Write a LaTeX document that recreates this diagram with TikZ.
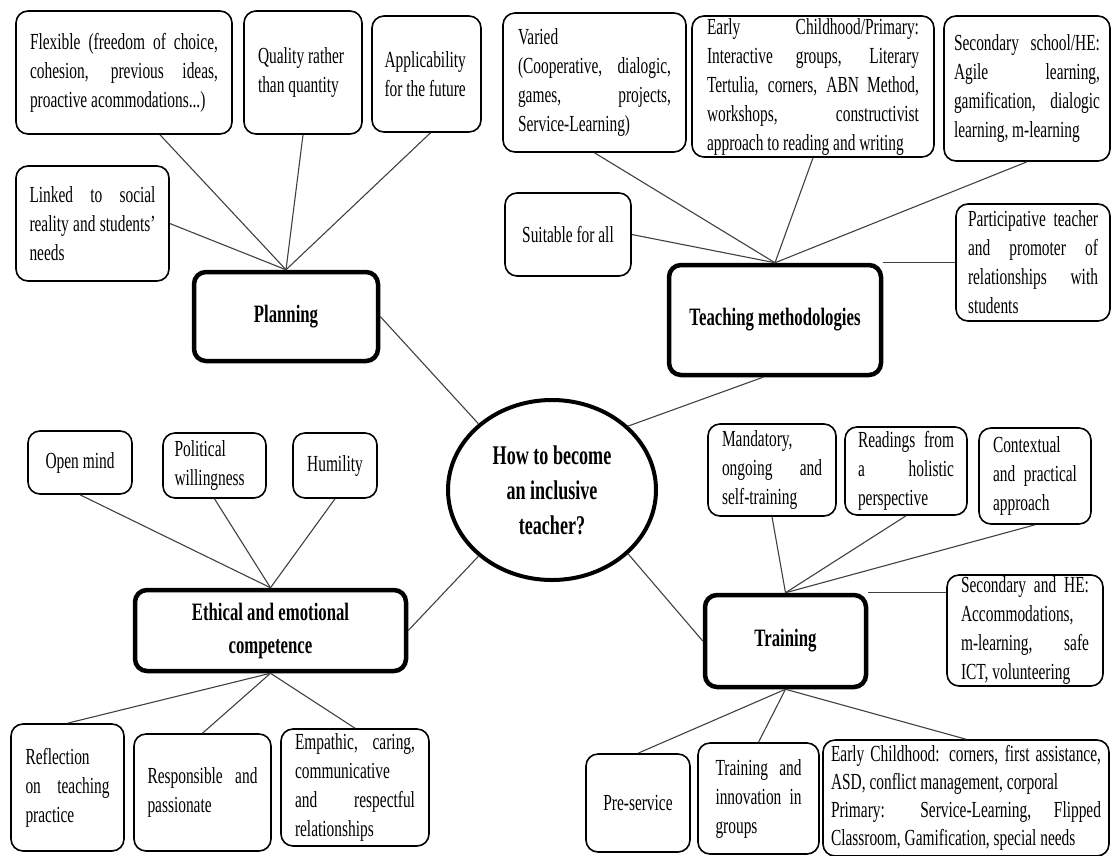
\documentclass[tikz,border=0pt]{standalone}
\usepackage{fontspec}
\setmainfont{Liberation Serif}[FakeStretch=0.67]
\usetikzlibrary{shapes.geometric}
\tolerance=10000 \hbadness=10000 \hyphenpenalty=10000 \exhyphenpenalty=10000
\begin{document}
\begin{tikzpicture}[x=1pt,y=-1pt,
  sub/.style={draw, line width=1.6pt, rounded corners=12pt, inner sep=0pt,
    font=\fontsize{23}{29}\selectfont, align=justify},
  subl/.style={draw, line width=1.6pt, rounded corners=12pt, inner sep=0pt,
    font=\fontsize{23}{29}\selectfont, align=center},
  hub/.style={draw, line width=4.5pt, rounded corners=12pt, inner sep=0pt,
    font=\fontsize{25}{33}\selectfont\bfseries, align=center},
  link/.style={draw=black!75, line width=1.1pt}]
\useasboundingbox (0,0) rectangle (1113,855);
\clip (0,0) rectangle (1113,855);

% ---------- Planning ----------
\node[sub, minimum width=216pt, minimum height=123pt, text width=188pt] (flex) at (124,72.5)
  {Flexible (freedom of choice,\linebreak cohesion, previous ideas,\linebreak proactive acommodations...)};
\node[sub, minimum width=118pt, minimum height=123pt, text width=90pt] (qual) at (303,72.5)
  {Quality rather\newline than quantity};
\node[sub, minimum width=109pt, minimum height=116pt, text width=84pt] (appl) at (426.5,74)
  {Applicability\newline for the future};
\node[sub, minimum width=153pt, minimum height=115pt, text width=126pt] (linked) at (92.5,223.5)
  {Linked to social\linebreak reality and students'\linebreak needs};
\node[hub, minimum width=184pt, minimum height=89pt] (plan) at (286,316.5) {Planning};

% ---------- Teaching methodologies ----------
\node[sub, minimum width=183pt, minimum height=139pt, text width=153pt] (varied) at (594.5,82.5)
  {Varied\newline (Cooperative, dialogic,\linebreak games, projects,\linebreak Service-Learning)};
\node[sub, minimum width=242pt, minimum height=141pt, text width=212pt] (early) at (813,86.5)
  {Early Childhood/Primary:\linebreak Interactive groups, Literary\linebreak Tertulia, corners, ABN Method,\linebreak workshops, constructivist\linebreak approach to reading and writing};
\node[sub, minimum width=166pt, minimum height=145pt, text width=146pt] (sec) at (1027,88.5)
  {Secondary school/HE:\linebreak Agile learning,\linebreak gamification, dialogic\linebreak learning, m-learning};
\node[subl, minimum width=126pt, minimum height=83pt] (suit) at (568,234.5)
  {Suitable for all};
\node[sub, minimum width=154pt, minimum height=117pt, text width=130pt] (part) at (1033,262.5)
  {Participative teacher\linebreak and promoter of\linebreak relationships with\linebreak students};
\node[hub, minimum width=212pt, minimum height=110pt] (tm) at (775,320) {Teaching methodologies};

% ---------- Centre ----------
\node[ellipse, draw, line width=4pt, minimum width=208pt, minimum height=180pt, inner sep=0pt,
  align=center, font=\fontsize{27}{35}\selectfont\bfseries] (q) at (552,490)
  {How to become\\an inclusive\\teacher?};

% ---------- Ethical and emotional competence ----------
\node[subl, minimum width=104pt, minimum height=63pt] (open) at (80,462.5)
  {Open mind};
\node[sub, minimum width=103pt, minimum height=65pt, text width=80pt] (pol) at (214.5,465.5)
  {Political\newline willingness};
\node[subl, minimum width=84pt, minimum height=65pt] (hum) at (335,465.5)
  {Humility};
\node[hub, minimum width=271pt, minimum height=81pt] (eth) at (270.5,630.5)
  {Ethical and emotional\\competence};
\node[sub, minimum width=113pt, minimum height=127pt, text width=84pt] (refl) at (67.5,787.5)
  {Reflection\newline on teaching\linebreak practice};
\node[sub, minimum width=137pt, minimum height=117pt, text width=110pt] (resp) at (202.5,792.5)
  {Responsible and\linebreak passionate};
\node[sub, minimum width=148pt, minimum height=117pt, text width=120pt] (emp) at (355,787.5)
  {Empathic, caring,\linebreak communicative\newline and respectful\linebreak relationships};

% ---------- Training ----------
\node[sub, minimum width=128pt, minimum height=92pt, text width=100pt] (mand) at (772,470)
  {Mandatory,\newline ongoing and\linebreak self-training};
\node[sub, minimum width=122pt, minimum height=88pt, text width=96pt] (read) at (906,471)
  {Readings from\linebreak a holistic\linebreak perspective};
\node[sub, minimum width=112pt, minimum height=96pt, text width=84pt] (cont) at (1035,476)
  {Contextual\newline and practical\linebreak approach};
\node[hub, minimum width=161pt, minimum height=92pt] (train) at (785.5,641) {Training};
\node[sub, minimum width=156pt, minimum height=111pt, text width=128pt] (sechE) at (1025,630.5)
  {Secondary and HE:\linebreak Accommodations,\newline m-learning, safe\linebreak ICT, volunteering};
\node[subl, minimum width=104pt, minimum height=98pt] (pre) at (638,803)
  {Pre-service};
\node[sub, minimum width=121pt, minimum height=111pt, text width=86pt] (tig) at (758.5,798.5)
  {Training and\linebreak innovation in\linebreak groups};
\node[sub, minimum width=286pt, minimum height=116pt, text width=270pt,
  font=\fontsize{23}{28}\selectfont] (ec) at (966,798)
  {Early Childhood: corners, first assistance,\linebreak ASD, conflict management, corporal\newline Primary: Service-Learning, Flipped\linebreak Classroom, Gamification, special needs};

% ---------- Connectors ----------
\draw[link] (plan.north) -- ([xshift=36pt]flex.south);
\draw[link] (plan.north) -- (qual.south);
\draw[link] (plan.north) -- ([xshift=4pt]appl.south);
\draw[link] (plan.north) -- (linked.east);
\draw[link] (plan.east) -- (q.138);

\draw[link] (tm.north) -- (varied.south);
\draw[link] (tm.north) -- (early.south);
\draw[link] (tm.north) -- (sec.south);
\draw[link] (tm.north) -- (suit.east);
\draw[link] (tm.north east) -- (tm.north east -| part.west);
\draw[link] ([xshift=-12pt]tm.south) -- (q.40);

\draw[link] (eth.north) -- (open.south);
\draw[link] (eth.north) -- (pol.south);
\draw[link] (eth.north) -- (hum.south);
\draw[link] (eth.east) -- (q.222);
\draw[link] (eth.south) -- (refl.north);
\draw[link] (eth.south) -- (resp.north);
\draw[link] (eth.south) -- (emp.north);

\draw[link] (train.north) -- (mand.south);
\draw[link] (train.north) -- (read.south);
\draw[link] (train.north) -- (cont.south);
\draw[link] (train.north east) -- (train.north east -| sechE.west);
\draw[link] (train.west) -- (q.320);
\draw[link] (train.south) -- (pre.north);
\draw[link] (train.south) -- (tig.north);
\draw[link] (train.south) -- (ec.north);
\end{tikzpicture}
\end{document}
